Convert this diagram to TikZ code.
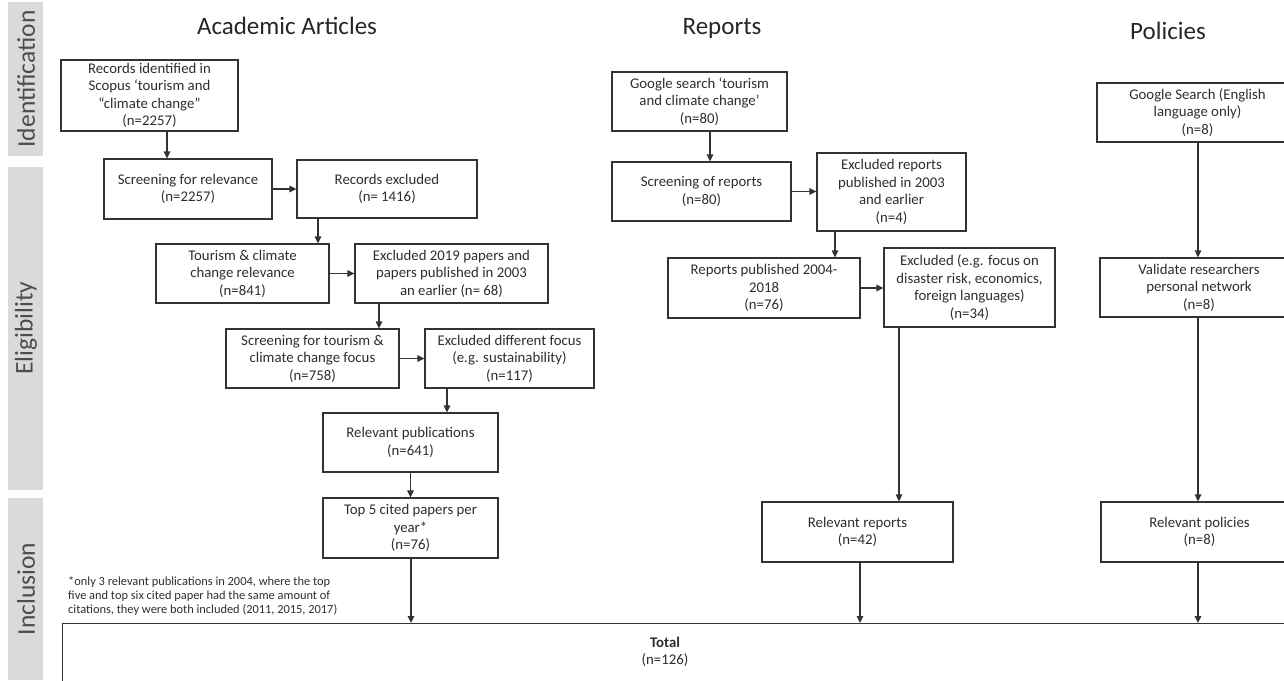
\documentclass[tikz,border=0pt]{standalone}
\usepackage{fontspec}
\setmainfont{Carlito}
\usetikzlibrary{positioning,arrows.meta}
\definecolor{boxline}{HTML}{333333}
\definecolor{txtgray}{HTML}{2E2E2E}
\definecolor{bandgray}{HTML}{DADADA}
\tikzset{
  flow/.style={x=1pt,y=-1pt,>={Triangle[length=7pt,width=6.5pt]}},
  stage/.style={draw=boxline,line width=1.2pt,fill=white,text=txtgray,align=center,
    inner sep=2pt,font=\fontsize{14.8}{17.5}\selectfont},
  arr/.style={->,draw=boxline,line width=1.2pt},
  head/.style={text=black!85,font=\fontsize{25}{28}\selectfont},
  band/.style={fill=bandgray,draw=none},
  bandlbl/.style={rotate=90,text=txtgray!85,font=\fontsize{25.5}{28}\selectfont},
  note/.style={text=txtgray,align=left,inner sep=0pt,font=\fontsize{12.4}{14}\selectfont},
}

\begin{document}
\begin{tikzpicture}[flow]
  \clip (0,0) rectangle (1284,680);
  \useasboundingbox (0,0) rectangle (1284,680);

  % phase bands
  \fill[band] (8,2) rectangle (43,156);
  \fill[band] (8,167) rectangle (43,490);
  \fill[band] (8,498) rectangle (43,680);
  \node[bandlbl] (lident) at (26,79) {Identification};
  \node[bandlbl] (lelig) at (26,328) {Eligibility};
  \node[bandlbl] (lincl) at (26,589) {Inclusion};

  % column headings
  \node[head] (hacad) at (287,26) {Academic Articles};
  \node[head] (hrep) at (722,28) {Reports};
  \node[head] (hpol) at (1168,31) {Policies};

  % academic articles
  \node[stage,minimum width=177pt,minimum height=71pt] (a1) at (149.5,95.5)
    {Records identified in\\Scopus ‘tourism and\\“climate change”\\(n=2257)};
  \node[stage,minimum width=168pt,minimum height=60pt] (a2) at (188,189)
    {Screening for relevance\\(n=2257)};
  \node[stage,minimum width=180pt,minimum height=58pt] (a3) at (387,189)
    {Records excluded\\(n= 1416)};
  \node[stage,minimum width=173pt,minimum height=59pt] (a4) at (242.5,273.5)
    {Tourism \& climate\\change relevance\\(n=841)};
  \node[stage,minimum width=193pt,minimum height=59pt] (a5) at (451.5,273.5)
    {Excluded 2019 papers and\\papers published in 2003\\an earlier (n= 68)};
  \node[stage,minimum width=173pt,minimum height=59pt] (a6) at (312.5,358.5)
    {Screening for tourism \&\\climate change focus\\(n=758)};
  \node[stage,minimum width=169pt,minimum height=59pt] (a7) at (509.5,358.5)
    {Excluded different focus\\(e.g. sustainability)\\(n=117)};
  \node[stage,minimum width=175pt,minimum height=59pt] (a8) at (410.5,442.5)
    {Relevant publications\\(n=641)};
  \node[stage,minimum width=175pt,minimum height=60pt] (a9) at (410.5,528)
    {Top 5 cited papers per\\year*\\(n=76)};
  \node[note,anchor=west] (fn) at (68,596)
    {*only 3 relevant publications in 2004, where the top\\five and top six cited paper had the same amount of\\citations, they were both included (2011, 2015, 2017)};

  % reports
  \node[stage,minimum width=175pt,minimum height=59pt] (r1) at (699.5,101.5)
    {Google search ‘tourism\\and climate change’\\(n=80)};
  \node[stage,minimum width=179pt,minimum height=59pt] (r2) at (701.5,191.5)
    {Screening of reports\\(n=80)};
  \node[stage,minimum width=149pt,minimum height=78pt] (r3) at (891.5,192)
    {Excluded reports\\published in 2003\\and earlier\\(n=4)};
  \node[stage,minimum width=192pt,minimum height=60pt] (r4) at (764,288)
    {Reports published 2004-\\2018\\(n=76)};
  \node[stage,minimum width=171pt,minimum height=79pt] (r5) at (969.5,287.5)
    {Excluded (e.g. focus on\\disaster risk, economics,\\foreign languages)\\(n=34)};
  \node[stage,minimum width=191pt,minimum height=60pt] (r6) at (857.5,532)
    {Relevant reports\\(n=42)};

  % policies
  \node[stage,minimum width=201pt,minimum height=59pt] (p1) at (1197.5,112.5)
    {Google Search (English\\language only)\\(n=8)};
  \node[stage,minimum width=198pt,minimum height=59pt] (p2) at (1199,287.5)
    {Validate researchers\\personal network\\(n=8)};
  \node[stage,minimum width=197pt,minimum height=60pt] (p3) at (1199.5,532)
    {Relevant policies\\(n=8)};

  % total
  \node[stage,anchor=north west,minimum width=1250pt,minimum height=62pt] (total) at (62,623) {};
  \node[text=txtgray,align=center,font=\fontsize{14.8}{17.5}\selectfont] (totlbl) at (665,652)
    {\bfseries Total\\(n=126)};

  % arrow columns
  \coordinate (xa1) at (167,0);
  \coordinate (xa3) at (318,0);
  \coordinate (xa5) at (379,0);
  \coordinate (xa7) at (447,0);
  \coordinate (xa9) at (411,0);
  \coordinate (xr1) at (710,0);
  \coordinate (xr3) at (835,0);
  \coordinate (xr5) at (899,0);
  \coordinate (xr6) at (860,0);
  \coordinate (xp) at (1198,0);

  \draw[arr] (a1.south -| xa1) -- (a2.north -| xa1);
  \draw[arr] (a2.east) -- (a3.west);
  \draw[arr] (a3.south -| xa3) -- (a4.north -| xa3);
  \draw[arr] (a4.east) -- (a5.west);
  \draw[arr] (a5.south -| xa5) -- (a6.north -| xa5);
  \draw[arr] (a6.east) -- (a7.west);
  \draw[arr] (a7.south -| xa7) -- (a8.north -| xa7);
  \draw[arr] (a8.south) -- (a9.north);
  \draw[arr] (a9.south -| xa9) -- (total.north -| xa9);

  \draw[arr] (r1.south -| xr1) -- (r2.north -| xr1);
  \draw[arr] (r2.east) -- (r3.west |- r2.east);
  \draw[arr] (r3.south -| xr3) -- (r4.north -| xr3);
  \draw[arr] (r4.east) -- (r5.west |- r4.east);
  \draw[arr] (r5.south -| xr5) -- (r6.north -| xr5);
  \draw[arr] (r6.south -| xr6) -- (total.north -| xr6);

  \draw[arr] (p1.south -| xp) -- (p2.north -| xp);
  \draw[arr] (p2.south -| xp) -- (p3.north -| xp);
  \draw[arr] (p3.south -| xp) -- (total.north -| xp);
\end{tikzpicture}
\end{document}
